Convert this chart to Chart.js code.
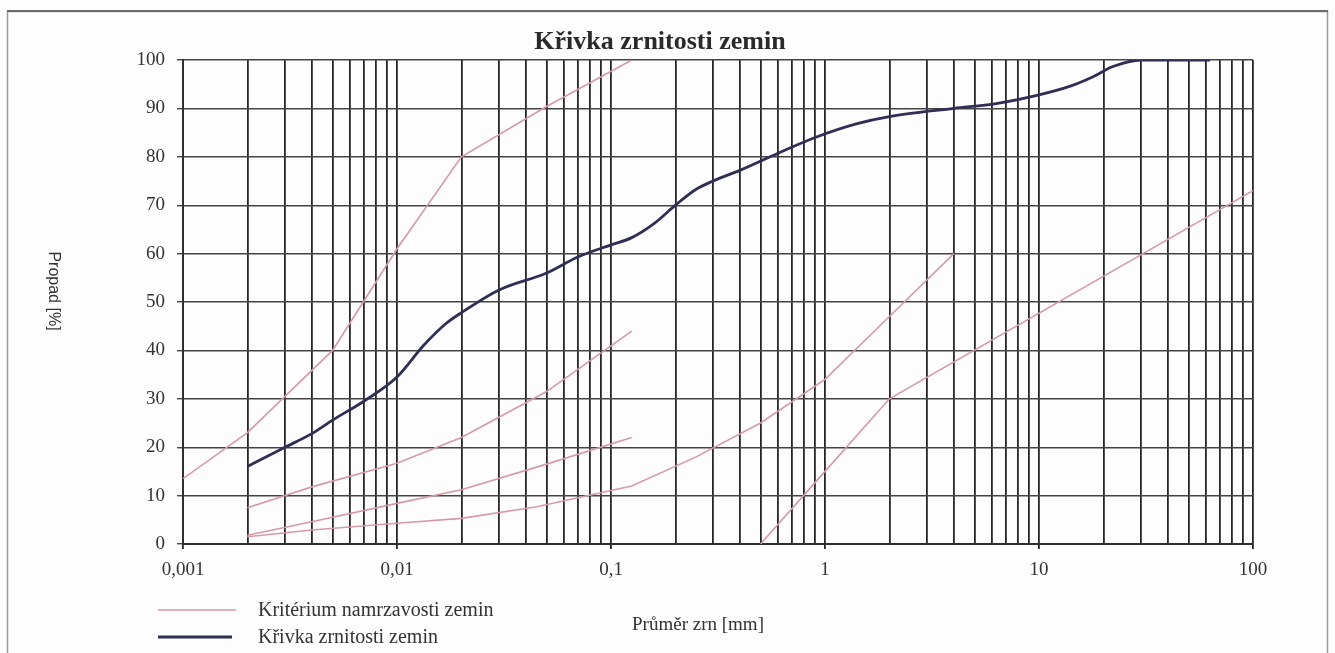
<!DOCTYPE html>
<html>
<head>
<meta charset="utf-8">
<script src="https://cdn.jsdelivr.net/npm/chart.js@4.4.1/dist/chart.umd.min.js"></script>
<style>
    html, body { margin: 0; padding: 0; background: #fdfdfd; }
    #wrap { width: 1335px; height: 653px; position: relative; }
</style>
</head>
<body>
<div id="wrap"><canvas id="grainChart"></canvas></div>
<script>
// x axis (log), grain size in mm
const xDecades = [0.001, 0.01, 0.1, 1, 10, 100];
const xTickLabels = ['0,001', '0,01', '0,1', '1', '10', '100'];
const yTickStep = 10;

// Křivka zrnitosti zemin (measured curve)
const curveSize = [0.002, 0.003, 0.004, 0.005, 0.007, 0.01, 0.0133, 0.017, 0.02, 0.03, 0.05, 0.07, 0.1, 0.125, 0.16, 0.2, 0.25, 0.3, 0.4, 0.6, 0.9, 1.4, 2, 4, 6.3, 10, 14, 18, 22, 30, 63];
const curvePass = [16, 20, 22.8, 25.6, 29.5, 34.5, 41, 45.6, 47.8, 52.5, 56, 59.3, 61.8, 63.3, 66.3, 70, 73.3, 75, 77.2, 80.7, 84, 86.8, 88.3, 90, 91, 92.8, 94.6, 96.6, 98.6, 100, 100];

// Kritérium namrzavosti zemin (boundary lines)
const crit1Size = [0.001, 0.002, 0.005, 0.01, 0.02, 0.05, 0.125];
const crit1Pass = [13.5, 23, 40, 61, 80, 90.4, 100];
const crit2Size = [0.002, 0.004, 0.01, 0.02, 0.05, 0.125];
const crit2Pass = [7.5, 11.8, 16.7, 22, 31.5, 44];
const crit3Size = [0.002, 0.004, 0.01, 0.02, 0.05, 0.125];
const crit3Pass = [1.8, 4.6, 8.4, 11.2, 16.5, 22];
const crit4Size = [0.002, 0.004, 0.01, 0.02, 0.045, 0.125, 0.25, 0.5, 1, 2, 4];
const crit4Pass = [1.5, 2.9, 4.3, 5.3, 7.7, 12, 18, 25, 34, 47, 60];
const crit5Size = [0.5, 1, 2, 100];
const crit5Pass = [0, 15, 30, 73];

const pink = '#d49aa6';
const navy = '#2f2f55';

function pts(xs, ys) {
    return xs.map((x, i) => ({ x: x, y: ys[i] }));
}

function critSet(xs, ys) {
    return {
        data: pts(xs, ys),
        borderColor: pink,
        borderWidth: 1.6,
        pointRadius: 0,
        tension: 0
    };
}

// 1..9 x 10^n gridlines between the decades
const gridVals = [];
for (let i = 0; i < xDecades.length - 1; i++) {
    for (let k = 1; k < 10; k++) {
        gridVals.push(Number((k * xDecades[i]).toPrecision(3)));
    }
}
gridVals.push(xDecades[xDecades.length - 1]);

function isDecade(v) {
    return xDecades.some(d => Math.abs(d - v) < d * 1e-6);
}

const decor = {
    id: 'decor',
    beforeDraw(chart) {
        const ctx = chart.ctx;
        ctx.save();
        ctx.fillStyle = '#fdfdfd';
        ctx.fillRect(0, 0, chart.width, chart.height);
        ctx.strokeStyle = '#9a9a9a';
        ctx.lineWidth = 1.5;
        ctx.strokeRect(7.5, 11.5, 1320, 660);
        ctx.strokeStyle = '#6a6a6a';
        ctx.lineWidth = 2;
        ctx.beginPath();
        ctx.moveTo(7, 11);
        ctx.lineTo(1328, 11);
        ctx.stroke();
        ctx.restore();
    },
    afterDraw(chart) {
        const ctx = chart.ctx;
        ctx.save();
        ctx.fillStyle = '#2a2a2a';
        ctx.textBaseline = 'middle';

        // title
        ctx.textAlign = 'center';
        ctx.font = 'bold 26px "Liberation Serif"';
        ctx.fillText('Křivka zrnitosti zemin', 660, 42);

        // x title
        ctx.font = '19px "Liberation Serif"';
        ctx.fillStyle = '#333';
        ctx.fillText('Průměr zrn [mm]', 698, 625);

        // y title, reads top to bottom
        ctx.save();
        ctx.translate(53, 291);
        ctx.rotate(Math.PI / 2);
        ctx.font = '16px "Liberation Sans"';
        ctx.fillText('Propad [%]', 0, 0);
        ctx.restore();

        // legend
        ctx.textAlign = 'left';
        ctx.font = '20px "Liberation Serif"';
        ctx.strokeStyle = pink;
        ctx.lineWidth = 1.5;
        ctx.beginPath();
        ctx.moveTo(158, 610);
        ctx.lineTo(236, 610);
        ctx.stroke();
        ctx.fillText('Kritérium namrzavosti zemin', 258, 611);

        ctx.strokeStyle = navy;
        ctx.lineWidth = 3;
        ctx.beginPath();
        ctx.moveTo(158, 637);
        ctx.lineTo(232, 637);
        ctx.stroke();
        ctx.fillText('Křivka zrnitosti zemin', 258, 638);
        ctx.restore();
    }
};

new Chart(document.getElementById('grainChart').getContext('2d'), {
    type: 'line',
    data: {
        datasets: [
            critSet(crit1Size, crit1Pass),
            critSet(crit2Size, crit2Pass),
            critSet(crit3Size, crit3Pass),
            critSet(crit4Size, crit4Pass),
            critSet(crit5Size, crit5Pass),
            {
                label: 'Křivka zrnitosti zemin',
                data: pts(curveSize, curvePass),
                borderColor: navy,
                borderWidth: 2.8,
                pointRadius: 0,
                cubicInterpolationMode: 'monotone'
            }
        ]
    },
    options: {
        responsive: true,
        maintainAspectRatio: false,
        animation: false,
        layout: { padding: { top: 60, right: 82, left: 0, bottom: 0 } },
        plugins: {
            legend: { display: false },
            title: { display: false },
            tooltip: { enabled: false }
        },
        scales: {
            x: {
                type: 'logarithmic',
                min: xDecades[0],
                max: xDecades[xDecades.length - 1],
                afterBuildTicks: (scale) => {
                    scale.ticks = gridVals.map(v => ({ value: v, major: isDecade(v) }));
                },
                afterFit: (scale) => { scale.height = 109; },
                ticks: {
                    autoSkip: false,
                    maxRotation: 0,
                    padding: 10,
                    color: '#333',
                    font: { family: '"Liberation Serif"', size: 19 },
                    callback: (v) => {
                        const i = xDecades.findIndex(d => Math.abs(d - v) < d * 1e-6);
                        return i >= 0 ? xTickLabels[i] : '';
                    }
                },
                grid: {
                    color: '#262626',
                    lineWidth: 1.8,
                    tickLength: 5,
                    tickColor: (c) => (c.tick && isDecade(c.tick.value)) ? '#262626' : 'rgba(0,0,0,0)'
                },
                border: { color: '#2e2e2e', width: 2 }
            },
            y: {
                min: 0,
                max: 100,
                afterFit: (scale) => { scale.width = 183; },
                ticks: {
                    stepSize: yTickStep,
                    padding: 12,
                    color: '#333',
                    font: { family: '"Liberation Serif"', size: 19 }
                },
                grid: {
                    color: '#444',
                    lineWidth: 1.4,
                    tickLength: 6
                },
                border: { color: '#2e2e2e', width: 2 }
            }
        }
    },
    plugins: [decor]
});
</script>
</body>
</html>
